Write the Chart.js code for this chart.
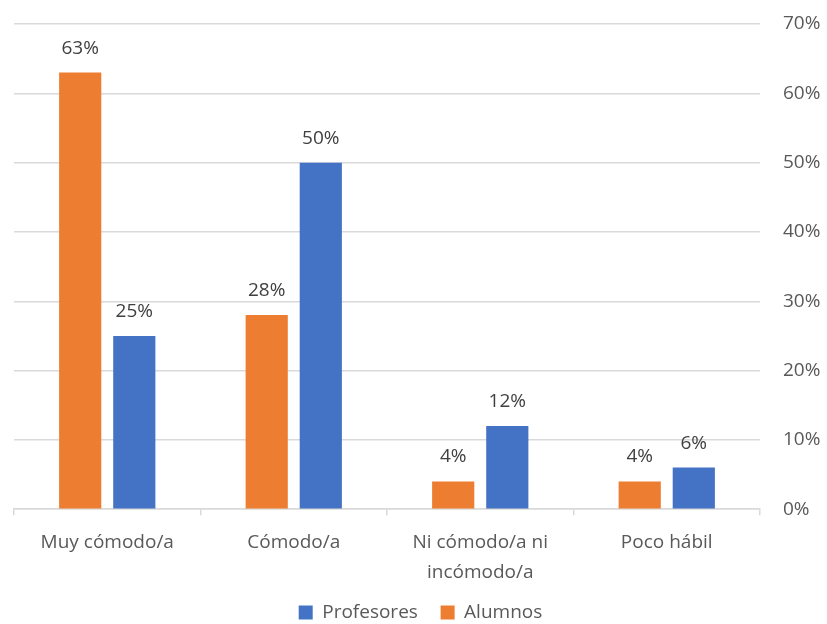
<!DOCTYPE html>
<html>
<head>
<meta charset="utf-8">
<script src="https://cdn.jsdelivr.net/npm/chart.js@4"></script>
<style>
  html, body { margin: 0; padding: 0; background: #fff; }
  #wrap { width: 827px; height: 624px; }
</style>
</head>
<body>
<div id="wrap"><canvas id="chart"></canvas></div>
<script>
const categories = ['Muy cómodo/a', 'Cómodo/a', ['Ni cómodo/a ni', 'incómodo/a'], 'Poco hábil'];
const alumnos = [63, 28, 4, 4];
const profesores = [25, 50, 12, 6];
const yTicks = [0, 10, 20, 30, 40, 50, 60, 70];

const FONT = "'Open Sans', sans-serif";
const TEXT = '#595959';

// labels above each bar
const barLabels = {
  id: 'barLabels',
  afterDatasetsDraw(chart) {
    const ctx = chart.ctx;
    ctx.save();
    ctx.fillStyle = '#404040';
    ctx.font = '19px ' + FONT;
    ctx.textAlign = 'center';
    ctx.textBaseline = 'alphabetic';
    chart.data.datasets.forEach((ds, i) => {
      chart.getDatasetMeta(i).data.forEach((bar, j) => {
        ctx.fillText(ds.data[j] + '%', bar.x, bar.y - 19);
      });
    });
    ctx.restore();
  }
};

new Chart(document.getElementById('chart'), {
  type: 'bar',
  data: {
    labels: categories,
    datasets: [
      { label: 'Alumnos', data: alumnos, backgroundColor: '#ED7D31' },
      { label: 'Profesores', data: profesores, backgroundColor: '#4472C4' }
    ]
  },
  options: {
    responsive: true,
    maintainAspectRatio: false,
    animation: false,
    categoryPercentage: 0.58,
    barPercentage: 0.78,
    layout: { padding: { left: 14, right: 0, top: 24, bottom: -8 } },
    scales: {
      x: {
        grid: { drawOnChartArea: false, drawTicks: true, tickLength: 6, color: '#D9D9D9', lineWidth: 1.5 },
        border: { color: '#D9D9D9', width: 1.5 },
        ticks: { color: TEXT, font: { family: FONT, size: 19, lineHeight: 1.6 }, padding: 12, maxRotation: 0 }
      },
      y: {
        position: 'right',
        min: 0,
        max: 70,
        afterBuildTicks: axis => { axis.ticks = yTicks.map(v => ({ value: v })); },
        afterFit: axis => { axis.width = 67; axis.paddingTop = 0; axis.paddingBottom = 0; },
        grid: { color: '#D9D9D9', lineWidth: 1.5, drawTicks: false },
        border: { display: false },
        ticks: { color: TEXT, font: { family: FONT, size: 19, lineHeight: 1 }, padding: 23, callback: v => v + '%' }
      }
    },
    plugins: {
      legend: {
        position: 'bottom',
        reverse: true,
        labels: {
          color: TEXT, font: { family: FONT, size: 19 }, boxWidth: 14, boxHeight: 14, padding: 3,
          generateLabels: chart => Chart.defaults.plugins.legend.labels.generateLabels(chart).map(l => {
            if (l.text === 'Profesores') l.text = 'Profesores    ';
            return l;
          })
        }
      },
      tooltip: { enabled: false }
    }
  },
  plugins: [barLabels]
});
</script>
</body>
</html>
